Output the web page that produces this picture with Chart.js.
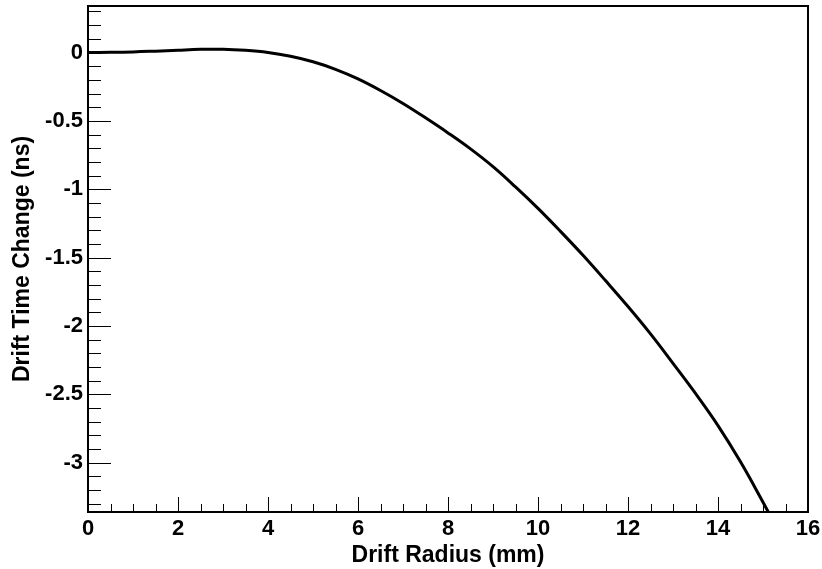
<!DOCTYPE html>
<html>
<head>
<meta charset="utf-8">
<script src="https://cdn.jsdelivr.net/npm/chart.js@4/dist/chart.umd.min.js"></script>
<style>
  html, body { margin: 0; padding: 0; background: #fff; }
  #wrap { width: 822px; height: 569px; }
</style>
</head>
<body>
<div id="wrap"><canvas id="c" width="822" height="569"></canvas></div>
<script>
// Data
const radius = [0, 0.5, 1.0, 1.5, 2.0, 2.5, 3.0, 3.5, 4.0, 4.5, 5.0, 5.5, 6.0, 6.5, 7.0, 7.5, 8.0, 8.5, 9.0, 9.5, 10.0, 10.5, 11.0, 11.5, 12.0, 12.5, 13.0, 13.5, 14.0, 14.5, 15.0, 15.2];
const timeChange = [0, 0.001, 0.004, 0.01, 0.017, 0.023, 0.024, 0.016, 0.0, -0.028, -0.068, -0.123, -0.193, -0.278, -0.373, -0.478, -0.588, -0.705, -0.835, -0.983, -1.14, -1.308, -1.483, -1.668, -1.858, -2.058, -2.273, -2.493, -2.728, -2.993, -3.288, -3.41];
const xRange = [0, 16];
const yRange = [-3.36, 0.34];
const xMajorStep = 2, xMinorStep = 0.5;
const yMajorStep = 0.5, yMinorStep = 0.1;
const xTitle = 'Drift Radius (mm)';
const yTitle = 'Drift Time Change (ns)';

const points = radius.map((r, i) => ({ x: r, y: timeChange[i] }));

const FONT = "'Liberation Sans', Arial, Helvetica, sans-serif";

const rootFrame = {
  id: 'rootFrame',
  afterDatasetsDraw(chart) {
    const { ctx, chartArea: a, scales: { x, y } } = chart;
    ctx.save();
    ctx.strokeStyle = '#000';
    ctx.lineWidth = 1;
    ctx.beginPath();
    const nx = Math.round((xRange[1] - xRange[0]) / xMinorStep);
    for (let i = 0; i <= nx; i++) {
      const v = xRange[0] + i * xMinorStep;
      const major = Math.abs(v / xMajorStep - Math.round(v / xMajorStep)) < 1e-6;
      const px = Math.round(x.getPixelForValue(v)) + 0.5;
      ctx.moveTo(px, a.bottom);
      ctx.lineTo(px, a.bottom - (major ? 15 : 8));
    }
    const startY = Math.ceil(yRange[0] / yMinorStep - 1e-6);
    const endY = Math.floor(yRange[1] / yMinorStep + 1e-6);
    for (let k = startY; k <= endY; k++) {
      const v = k * yMinorStep;
      const major = Math.abs(v / yMajorStep - Math.round(v / yMajorStep)) < 1e-6;
      const py = Math.round(y.getPixelForValue(v)) + 0.5;
      ctx.moveTo(a.left, py);
      ctx.lineTo(a.left + (major ? 23 : 13), py);
    }
    ctx.stroke();
    ctx.lineWidth = 2;
    ctx.strokeRect(a.left, a.top, a.right - a.left, a.bottom - a.top);
    ctx.restore();
  }
};

new Chart(document.getElementById('c'), {
  type: 'scatter',
  data: {
    datasets: [{
      data: points,
      showLine: true,
      borderColor: '#000',
      backgroundColor: '#000',
      borderWidth: 3,
      pointRadius: 0,
      tension: 0.4,
      clip: 0
    }]
  },
  options: {
    responsive: false,
    animation: false,
    devicePixelRatio: 1,
    layout: { padding: { left: 0, top: 6, right: 14, bottom: 0 } },
    plugins: { legend: { display: false }, tooltip: { enabled: false } },
    scales: {
      x: {
        type: 'linear',
        min: xRange[0], max: xRange[1],
        border: { display: false },
        grid: { display: false, drawTicks: false },
        ticks: {
          stepSize: xMajorStep, includeBounds: false, padding: 4,
          color: '#000', font: { family: FONT, size: 22, weight: 'bold' },
          maxRotation: 0, autoSkip: false,
          callback: v => String(Math.round(v * 100) / 100)
        },
        title: {
          display: true, text: xTitle, color: '#000',
          font: { family: FONT, size: 23, weight: 'bold' },
          padding: { top: 0, bottom: 0 }
        },
        afterFit(scale) { scale.height = 57; scale.paddingLeft = 0; scale.paddingRight = 0; }
      },
      y: {
        type: 'linear',
        min: yRange[0], max: yRange[1],
        border: { display: false },
        grid: { display: false, drawTicks: false },
        ticks: {
          stepSize: yMajorStep, includeBounds: false, padding: 5,
          color: '#000', font: { family: FONT, size: 22, weight: 'bold' },
          autoSkip: false,
          callback: v => String(Math.round(v * 100) / 100)
        },
        title: {
          display: true, text: yTitle, color: '#000',
          font: { family: FONT, size: 23, weight: 'bold' },
          padding: { top: 9, bottom: 0 }
        },
        afterFit(scale) { scale.width = 88; scale.paddingTop = 0; scale.paddingBottom = 0; }
      }
    }
  },
  plugins: [rootFrame]
});
</script>
</body>
</html>
